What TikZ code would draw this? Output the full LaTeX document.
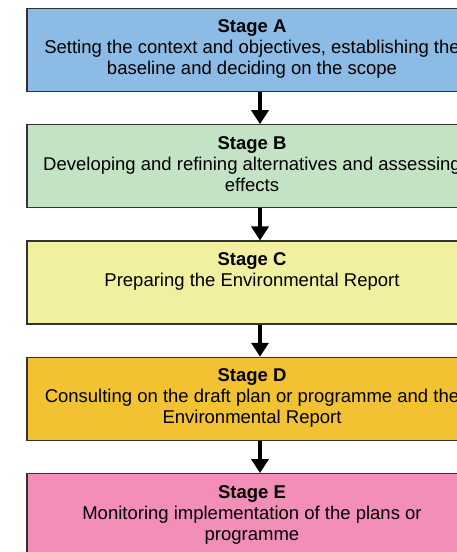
\documentclass[tikz,border=0pt]{standalone}
\usepackage{fontspec}
\setmainfont{Liberation Sans}
\usetikzlibrary{positioning,arrows.meta}

\definecolor{stageA}{RGB}{140,187,229}
\definecolor{stageB}{RGB}{196,226,196}
\definecolor{stageC}{RGB}{240,240,160}
\definecolor{stageD}{RGB}{242,194,50}
\definecolor{stageE}{RGB}{242,142,184}

\begin{document}
\begin{tikzpicture}[x=1pt,y=1pt,node distance=116.3pt,on grid,
	stage/.style={draw=black!80,line width=1.3pt,minimum width=450pt,minimum height=83pt,inner sep=0pt},
	stagetext/.style={anchor=north,align=center,inner sep=0pt,font=\fontsize{18.5}{21}\selectfont},
	flow/.style={-{Triangle[width=17pt,length=14pt]},line width=4.5pt}]
	\path[use as bounding box,clip] (0,0) rectangle (457,-552);
	\node[stage,fill=stageA] (A) at (252,-50) {};
	\node[stage,fill=stageB] (B) [below = of A] {};
	\node[stage,fill=stageC] (C) [below = of B] {};
	\node[stage,fill=stageD] (D) [below = of C] {};
	\node[stage,fill=stageE] (E) [below = of D] {};
	\node[stagetext] (tA) at ([yshift=-12pt]A.north) {\textbf{Stage A}\\Setting the context and objectives, establishing the\\baseline and deciding on the scope};
	\node[stagetext] (tB) at ([yshift=-12pt]B.north) {\textbf{Stage B}\\Developing and refining alternatives and assessing\\effects};
	\node[stagetext] (tC) at ([yshift=-12pt]C.north) {\textbf{Stage C}\\Preparing the Environmental Report};
	\node[stagetext] (tD) at ([yshift=-12pt]D.north) {\textbf{Stage D}\\Consulting on the draft plan or programme and the\\Environmental Report};
	\node[stagetext] (tE) at ([yshift=-12pt]E.north) {\textbf{Stage E}\\Monitoring implementation of the plans or\\programme};
	 \draw[flow] ([xshift=8pt]A.south) -- ([xshift=8pt]B.north);
	 \draw[flow] ([xshift=8pt]B.south) -- ([xshift=8pt]C.north);
	 \draw[flow] ([xshift=8pt]C.south) -- ([xshift=8pt]D.north);
	 \draw[flow] ([xshift=8pt]D.south) -- ([xshift=8pt]E.north);
\end{tikzpicture}
\end{document}
